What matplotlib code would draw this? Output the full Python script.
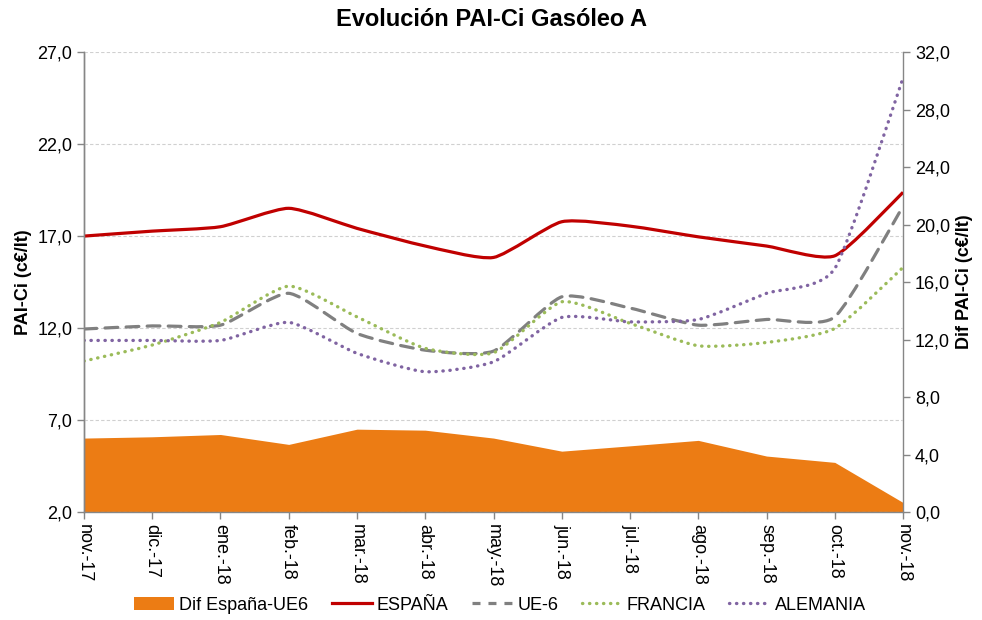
import numpy as np
import matplotlib
matplotlib.use('Agg')
import matplotlib.pyplot as plt
from matplotlib.path import Path
from matplotlib.patches import PathPatch, Patch
from matplotlib.lines import Line2D
from matplotlib.ticker import FuncFormatter

plt.rcParams['font.family'] = ['Liberation Sans', 'DejaVu Sans']

meses = ['nov.-17', 'dic.-17', 'ene.-18', 'feb.-18', 'mar.-18', 'abr.-18', 'may.-18',
         'jun.-18', 'jul.-18', 'ago.-18', 'sep.-18', 'oct.-18', 'nov.-18']
espana = [17.0, 17.27, 17.51, 18.51, 17.42, 16.46, 15.84, 17.78, 17.54, 16.96, 16.46, 15.93, 19.38]
ue6 = [11.95, 12.12, 12.16, 13.89, 11.71, 10.8, 10.75, 13.7, 13.09, 12.16, 12.47, 12.61, 18.63]
francia = [10.21, 11.08, 12.31, 14.28, 12.61, 10.9, 10.66, 13.43, 12.26, 11.04, 11.22, 11.98, 15.3]
alemania = [11.33, 11.33, 11.33, 12.31, 10.63, 9.63, 10.17, 12.58, 12.34, 12.47, 13.89, 15.24, 25.6]
dif = [5.15, 5.24, 5.40, 4.71, 5.77, 5.70, 5.15, 4.24, 4.61, 4.99, 3.90, 3.46, 0.67]


def smooth_path(x, y, k=10):
    # bezier segments, mild smoothing like the excel chart
    pts = np.column_stack([x, y]).astype(float)
    n = len(pts)
    verts = [pts[0]]
    codes = [Path.MOVETO]
    for i in range(n - 1):
        p0 = pts[i - 1] if i > 0 else pts[i]
        p1 = pts[i]
        p2 = pts[i + 1]
        p3 = pts[i + 2] if i + 2 < n else pts[i + 1]
        c1 = p1 + (p2 - p0) / k
        c2 = p2 - (p3 - p1) / k
        verts += [c1, c2, p2]
        codes += [Path.CURVE4] * 3
    return Path(verts, codes)


x = np.arange(len(meses))
fig, ax = plt.subplots(figsize=(9.82, 6.2), dpi=100)
fig.subplots_adjust(left=0.0855, right=0.9196, top=0.916, bottom=0.174)
ax2 = ax.twinx()

orange = '#EC7C14'
ax2.fill_between(x, dif, 0, color=orange, linewidth=0)
ax2.set_ylim(0, 32)
ax2.set_yticks(np.arange(0, 33, 4))

ax.set_zorder(ax2.get_zorder() + 1)
ax.patch.set_visible(False)

dot = (0, (0.1, 2.0))
series = [
    (espana, '#C00000', '-', 2.3),
    (ue6, '#808080', (0, (4, 2.6)), 2.3),
    (francia, '#9BBB59', dot, 2.4),
    (alemania, '#8064A2', dot, 2.4),
]
for vals, col, ls, lw in series:
    patch = PathPatch(smooth_path(x, vals), fill=False, edgecolor=col, linewidth=lw,
                      linestyle=ls, capstyle='round' if ls != '-' else 'butt', joinstyle='round')
    ax.add_patch(patch)

ax.set_xlim(0, 12)
ax.set_ylim(2, 27)
ax.set_yticks(np.arange(2, 28, 5))
ax.set_xticks(x)
ax.set_xticklabels(meses, rotation=270, fontsize=13)

fmt = FuncFormatter(lambda v, p: f'{v:.1f}'.replace('.', ','))
ax.yaxis.set_major_formatter(fmt)
ax2.yaxis.set_major_formatter(fmt)

ax.grid(axis='y', color='#D0D0D0', linestyle=(0, (3, 2)), linewidth=0.8)
ax.set_axisbelow(True)

spine_col = '#868686'
for a in (ax, ax2):
    a.spines['top'].set_visible(False)
    for s in ('left', 'right', 'bottom'):
        a.spines[s].set_color(spine_col)
        a.spines[s].set_linewidth(1.0)
    a.tick_params(colors=spine_col, labelcolor='black', labelsize=13, length=5, width=1)
ax2.spines['bottom'].set_visible(False)
ax.spines['right'].set_visible(False)

ax.set_ylabel('PAI-Ci (c€/lt)', fontsize=13, fontweight='bold', labelpad=4)
ax2.set_ylabel('Dif PAI-Ci (c€/lt)', fontsize=13, fontweight='bold', labelpad=4)
fig.suptitle('Evolución PAI-Ci Gasóleo A', fontsize=17, fontweight='bold', x=0.5, y=0.987)

handles = [
    Patch(facecolor=orange, edgecolor='none'),
    Line2D([], [], color='#C00000', lw=2.3),
    Line2D([], [], color='#808080', lw=2.3, linestyle=(0, (2.5, 2.5))),
    Line2D([], [], color='#9BBB59', lw=2.4, linestyle=dot, dash_capstyle='round'),
    Line2D([], [], color='#8064A2', lw=2.4, linestyle=dot, dash_capstyle='round'),
]
labels = ['Dif España-UE6', 'ESPAÑA', 'UE-6', 'FRANCIA', 'ALEMANIA']
fig.legend(handles, labels, loc='center', bbox_to_anchor=(0.509, 0.024), ncol=5, frameon=False,
           fontsize=13, handlelength=2.2, handletextpad=0.3, columnspacing=1.3)

fig.savefig('out.png', dpi=100)
